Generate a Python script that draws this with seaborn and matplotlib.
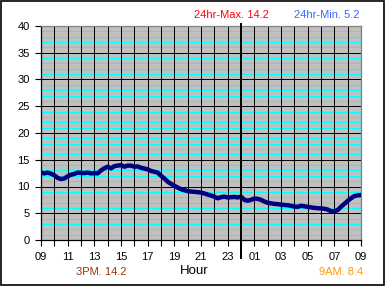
import matplotlib
matplotlib.use("Agg")
import matplotlib.pyplot as plt
import seaborn as sns
import pandas as pd
import numpy as np
from matplotlib.patches import Rectangle

# readings every 15 minutes, from 09:00 (hour 9) to 09:00 next day (hour 33)
hours = np.arange(9.0, 33.01, 0.25)
temps = [12.6, 12.45, 12.6, 12.4, 12.1, 11.6, 11.4, 11.5,
         11.9, 12.2, 12.35, 12.6, 12.55, 12.5, 12.6, 12.45,
         12.5, 12.45, 13.0, 13.4, 13.7, 13.4, 13.8, 13.9,
         14.0, 13.7, 13.9, 13.9, 13.7, 13.75, 13.5, 13.35,
         13.2, 12.9, 12.75, 12.6, 12.0, 11.5, 10.9, 10.5,
         10.15, 9.8, 9.5, 9.3, 9.15, 9.05, 9.0, 8.95,
         8.85, 8.7, 8.5, 8.3, 8.1, 7.8, 8.0, 8.1,
         7.95, 8.0, 8.05, 7.95, 8.1, 7.5, 7.35, 7.5,
         7.75, 7.7, 7.5, 7.2, 6.95, 6.85, 6.75, 6.7,
         6.6, 6.55, 6.5, 6.4, 6.25, 6.2, 6.4, 6.3,
         6.2, 6.1, 6.0, 5.95, 5.9, 5.85, 5.7, 5.4,
         5.35, 5.6, 6.2, 6.75, 7.3, 7.8, 8.2, 8.35, 8.4]
tick_hours = [9, 11, 13, 15, 17, 19, 21, 23, 25, 27, 29, 31, 33]
tick_labels = ["09", "11", "13", "15", "17", "19", "21", "23",
               "01", "03", "05", "07", "09"]
max_text = "24hr-Max. 14.2"
min_text = "24hr-Min. 5.2"
left_text = "3PM. 14.2"
right_text = "9AM. 8.4"
xlabel = "Hour"

df = pd.DataFrame({"hour": hours, "temp": temps})

sns.set_style("white")
plt.rcParams["font.family"] = ["Liberation Sans", "DejaVu Sans"]

fig = plt.figure(figsize=(3.85, 2.86), dpi=100)
W, H = 385, 286
ax = fig.add_axes([41 / W, 1 - 240 / H, 320 / W, 214 / H])
ax.set_facecolor("#C0C0C0")

# gridlines
for v in range(1, 40):
    if v % 5:
        ax.axhline(v, color="#00FFFF", lw=0.5, zorder=1, antialiased=False)
for v in range(5, 40, 5):
    ax.axhline(v, color="black", lw=0.5, zorder=1.5, antialiased=False)
for h in range(10, 33):
    ax.axvline(h, color="black", lw=0.5, zorder=1.5, antialiased=False)

sns.lineplot(data=df, x="hour", y="temp", ax=ax, color="#000080",
             lw=3.2, zorder=3, legend=False)

# midnight marker
ax.axvline(24, ymin=-0.085, ymax=1.01, color="black", lw=1.4,
           clip_on=False, zorder=4, antialiased=False)

ax.set_xlim(9, 33)
ax.set_ylim(0, 40)
ax.set_xticks(tick_hours)
ax.set_xticklabels(tick_labels)
ax.set_xticks(range(10, 33, 2), minor=True)
ax.set_yticks(range(0, 41, 5))
ax.tick_params(axis="both", which="both", direction="out", length=4,
               width=0.8, color="black", labelsize=8, labelcolor="black")
ax.tick_params(axis="x", which="both", bottom=True, pad=5)
ax.tick_params(axis="y", left=True, pad=4)
ax.set_xlabel("")
ax.set_ylabel("")

for s in ["left", "bottom"]:
    ax.spines[s].set_color("black")
    ax.spines[s].set_linewidth(0.9)
for s in ["top", "right"]:
    ax.spines[s].set_color("#808080")
    ax.spines[s].set_linewidth(0.9)

fig.text(231 / W, 1 - 14.5 / H, max_text, color="#FF0000", fontsize=8,
         ha="center", va="center")
fig.text(360 / W, 1 - 14.5 / H, min_text, color="#3366FF", fontsize=8,
         ha="right", va="center")
fig.text(101.5 / W, 1 - 272 / H, left_text, color="#993300", fontsize=8,
         ha="center", va="center")
fig.text(363 / W, 1 - 272 / H, right_text, color="#FF9900", fontsize=8,
         ha="right", va="center")
fig.text(194 / W, 1 - 271.5 / H, xlabel, color="black", fontsize=9.5,
         ha="center", va="center")

fig.patches.append(Rectangle((0.5 / W, 1.5 / H), 383.5 / W, 283.5 / H,
                             transform=fig.transFigure, fill=False,
                             edgecolor="black", lw=1.2))

fig.savefig("out.png", dpi=100)
